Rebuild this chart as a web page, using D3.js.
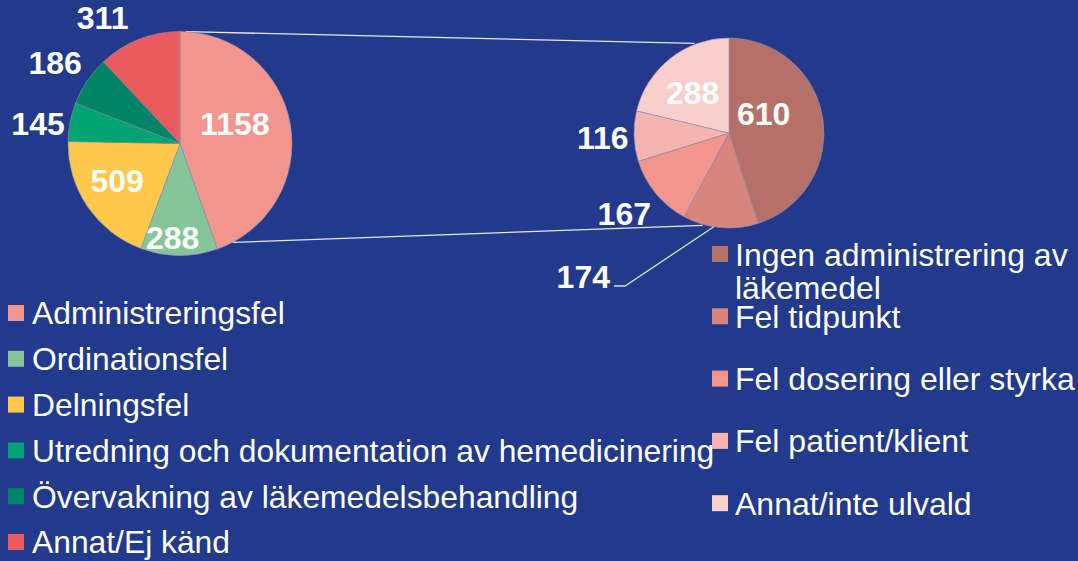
<!DOCTYPE html>
<html>
<head>
<meta charset="utf-8">
<script src="https://cdn.jsdelivr.net/npm/d3@7"></script>
<style>
  html, body { margin: 0; padding: 0; background: #22398c; }
  svg { display: block; }
  text { font-family: "Liberation Sans", Arial, sans-serif; fill: #fff; }
</style>
</head>
<body>
<svg id="chart"></svg>
<script>
// data
var mainLabels = ["Administreringsfel", "Ordinationsfel", "Delningsfel",
  "Utredning och dokumentation av hemedicinering", "Övervakning av läkemedelsbehandling", "Annat/Ej känd"];
var mainValues = [1158, 288, 509, 145, 186, 311];
var mainColors = ["#f3958f", "#86c59a", "#fdc84b", "#00a572", "#008463", "#ea5b60"];

var subLabels = [["Ingen administrering av", "läkemedel"], ["Fel tidpunkt"], ["Fel dosering eller styrka"],
  ["Fel patient/klient"], ["Annat/inte ulvald"]];
var subValues = [610, 174, 167, 116, 288];
var subColors = ["#b5706a", "#d8857e", "#f2958d", "#f5b4b0", "#f8cfcd"];

var width = 1078, height = 561;
var rad = Math.PI / 180;

var svg = d3.select("#chart").attr("width", width).attr("height", height);

// pie settings
var main = { cx: 180, cy: 143.5, r: 112 };
var sub = { cx: 729, cy: 133, r: 95 };

// label placement: [angle shift in degrees, radius factor]
var mainLabelPos = [[-10, 0.52], [4, 0.84], [4, 0.65], [-3, 1.28], [-1, 1.33], [-10, 1.32]];
var subLabelPos = [[-21, 0.42], [0, 1.0], [2, 1.39], [0, 1.33], [-4, 0.57]];

var pie = d3.pie().sort(null).value(function(d){ return d; });
var arcMain = d3.arc().innerRadius(0).outerRadius(main.r);
var arcSub = d3.arc().innerRadius(0).outerRadius(sub.r);

var mainArcs = pie(mainValues);
var subArcs = pie(subValues);

// connector lines (drawn first, behind pies)
var topA = d3.pointRadial(3 * rad, main.r);
var botA = d3.pointRadial(152 * rad, main.r);
var topB = d3.pointRadial(-21 * rad, sub.r + 1);
var botB = d3.pointRadial(196 * rad, sub.r + 1);
svg.append("line")
  .attr("x1", main.cx + topA[0]).attr("y1", main.cy + topA[1])
  .attr("x2", sub.cx + topB[0]).attr("y2", sub.cy + topB[1])
  .attr("stroke", "#e6e8f2").attr("stroke-width", 1.3);
svg.append("line")
  .attr("x1", main.cx + botA[0]).attr("y1", main.cy + botA[1])
  .attr("x2", sub.cx + botB[0]).attr("y2", sub.cy + botB[1])
  .attr("stroke", "#e6e8f2").attr("stroke-width", 1.3);

function drawPie(arcs, arcGen, pos, colors, labelPos, rr) {
  var g = svg.append("g").attr("transform", "translate(" + pos.cx + "," + pos.cy + ")");
  g.selectAll("path")
    .data(arcs)
    .enter()
    .append("path")
    .attr("d", arcGen)
    .attr("fill", function(d, i){ return colors[i]; })
    .attr("stroke", "#8c8fae")
    .attr("stroke-width", 0.6);
  g.selectAll("text.val")
    .data(arcs)
    .enter()
    .append("text")
    .attr("class", "val")
    .attr("text-anchor", "middle")
    .attr("dy", "0.36em")
    .style("font-size", "32px")
    .style("font-weight", "bold")
    .attr("transform", function(d, i){
      var mid = (d.startAngle + d.endAngle) / 2 + labelPos[i][0] * rad;
      var p = d3.pointRadial(mid, rr * labelPos[i][1]);
      return "translate(" + p[0] + "," + p[1] + ")";
    })
    .text(function(d){ return d.data; });
  return g;
}

drawPie(mainArcs, arcMain, main, mainColors, mainLabelPos, main.r);
var gSub = drawPie(subArcs, arcSub, sub, subColors, subLabelPos, sub.r);

// leader line for the "174" label
var s174 = subArcs[1];
var edge = d3.pointRadial(((s174.startAngle + s174.endAngle) / 2 + 4 * rad), sub.r);
var elbow = [-104, 153];
gSub.select("text.val:nth-of-type(2)").remove();
gSub.append("polyline")
  .attr("points", [edge, elbow, [elbow[0] - 11, elbow[1]]].map(function(p){ return p.join(","); }).join(" "))
  .attr("fill", "none")
  .attr("stroke", "#c7e8cc")
  .attr("stroke-width", 1.3);
gSub.append("text")
  .attr("x", elbow[0] - 15)
  .attr("y", elbow[1] - 10)
  .attr("dy", "0.36em")
  .attr("text-anchor", "end")
  .style("font-size", "32px")
  .style("font-weight", "bold")
  .text(s174.data);

// legend left
var legL = svg.append("g").attr("transform", "translate(8,313)");
var rowL = legL.selectAll("g")
  .data(mainLabels)
  .enter()
  .append("g")
  .attr("transform", function(d, i){ return "translate(0," + (i * 45.8) + ")"; });
rowL.append("rect")
  .attr("x", 0).attr("y", -8).attr("width", 16).attr("height", 16)
  .attr("fill", function(d, i){ return mainColors[i]; });
rowL.append("text")
  .attr("x", 24)
  .attr("dy", "0.36em")
  .style("font-size", "31.8px")
  .text(function(d){ return d; });

// legend right
var legR = svg.append("g").attr("transform", "translate(712,254)");
var rowR = legR.selectAll("g")
  .data(subLabels)
  .enter()
  .append("g")
  .attr("transform", function(d, i){ return "translate(0," + (i * 62.3) + ")"; });
rowR.append("rect")
  .attr("x", 0).attr("y", -8).attr("width", 16).attr("height", 16)
  .attr("fill", function(d, i){ return subColors[i]; });
rowR.append("text")
  .attr("x", 23)
  .style("font-size", "32px")
  .selectAll("tspan")
  .data(function(d){ return d; })
  .enter()
  .append("tspan")
  .attr("x", 23)
  .attr("dy", function(d, i){ return i === 0 ? "0.36em" : "33px"; })
  .text(function(d){ return d; });
</script>
</body>
</html>
